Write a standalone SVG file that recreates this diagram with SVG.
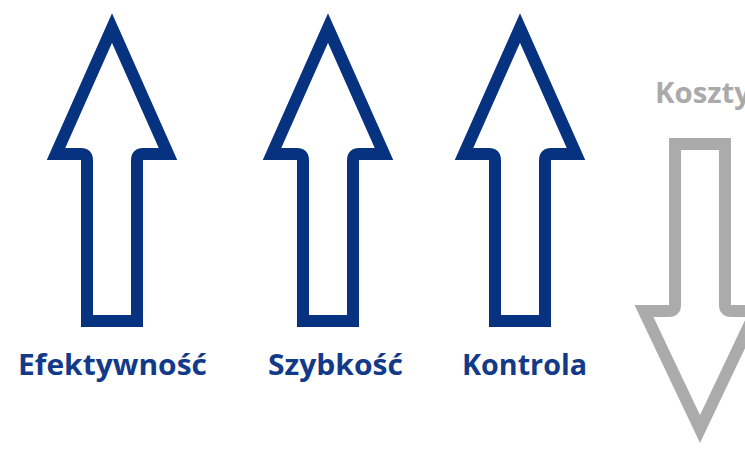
<svg xmlns="http://www.w3.org/2000/svg" width="745" height="451" viewBox="0 0 745 451">
  <style>
    .arrow { fill: #ffffff; stroke-width: 12; stroke-linejoin: miter; stroke-miterlimit: 10; }
    .up { stroke: #06327f; }
    .down { stroke: #ababab; }
    .label { font-family: "Open Sans", "Noto Sans", sans-serif; font-weight: 700; font-size: 29px; }
    .blue { fill: #123a88; }
    .grey { fill: #aaaaaa; }
  </style>
  <defs>
    <!-- hollow block arrow pointing up, centred on x=0 -->
    <path id="arrow-up" d="M0,28 L56,154 L31,154 Q25,154 25,160 L25,321 L-25,321 L-25,160 Q-25,154 -31,154 L-56,154 Z"/>
  </defs>

  <g id="efektywnosc">
    <use href="#arrow-up" class="arrow up" x="112"/>
    <text class="label blue" x="112.5" y="375" text-anchor="middle" textLength="189" lengthAdjust="spacingAndGlyphs">Efektywność</text>
  </g>

  <g id="szybkosc">
    <use href="#arrow-up" class="arrow up" x="328"/>
    <text class="label blue" x="335.5" y="375" text-anchor="middle" textLength="135" lengthAdjust="spacingAndGlyphs">Szybkość</text>
  </g>

  <g id="kontrola">
    <use href="#arrow-up" class="arrow up" x="520"/>
    <text class="label blue" x="524.5" y="375" text-anchor="middle" textLength="125" lengthAdjust="spacingAndGlyphs">Kontrola</text>
  </g>

  <g id="koszty">
    <path class="arrow down" d="M700,429 L644,311 L669,311 Q675,311 675,305 L675,144 L725,144 L725,305 Q725,311 731,311 L756,311 Z"/>
    <text class="label grey" x="655" y="103" textLength="96" lengthAdjust="spacingAndGlyphs">Koszty</text>
  </g>
</svg>
